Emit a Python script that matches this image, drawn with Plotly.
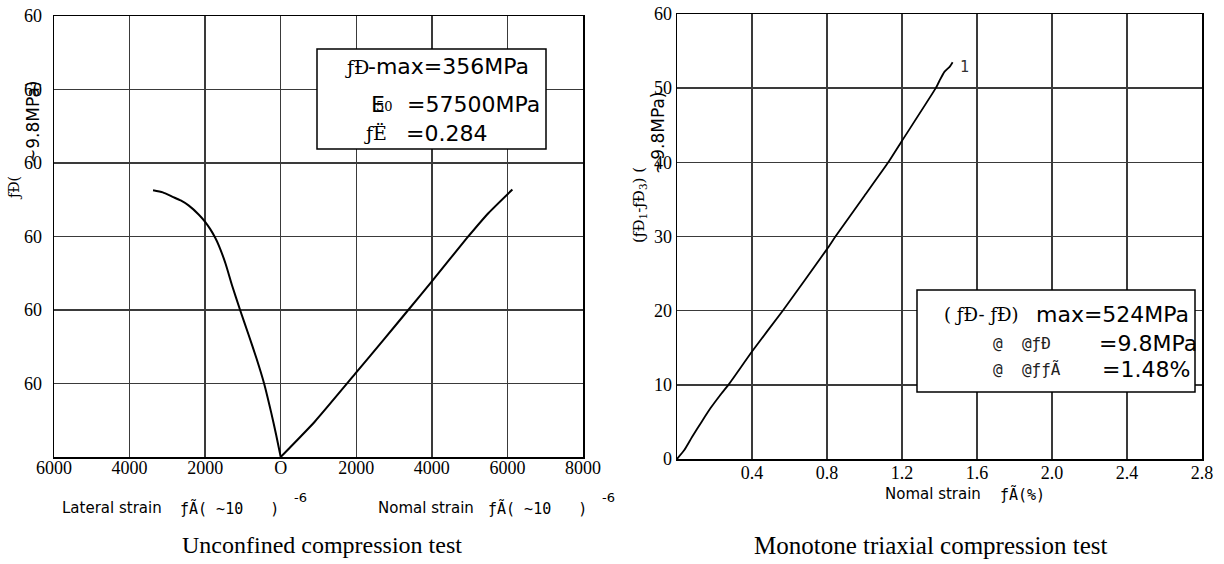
import plotly.graph_objects as go

W, H = 1224, 564

# ---------------- data: unconfined compression test ----------------
lateral_strain = [0, -120, -250, -440, -640, -855, -1075, -1285, -1459, -1640, -1730, -1865,
                  -2000, -2172, -2431, -2647, -2862, -3121, -3379]
lateral_stress = [0, 3.0, 6.0, 10.0, 13.4, 16.7, 20.0, 23.3, 26.3, 28.8, 29.8, 31.0,
                  32.0, 33.0, 34.2, 34.9, 35.4, 36.0, 36.3]
normal_strain = [0, 900, 2000, 2732, 3375, 4000, 4930, 5500, 6131]
normal_stress = [0, 4.8, 11.5, 16.0, 20.0, 23.9, 29.8, 33.2, 36.4]
left_xticks = [-6000, -4000, -2000, 0, 2000, 4000, 6000, 8000]
left_xticktext = ["6000", "4000", "2000", "O", "2000", "4000", "6000", "8000"]
left_yticks = [10, 20, 30, 40, 50, 60]
left_yticktext = ["60", "60", "60", "60", "60", "60"]

# ---------------- data: monotone triaxial compression test ----------------
tri_strain = [0, 0.039, 0.081, 0.131, 0.18, 0.23, 0.28, 0.40, 0.564, 0.80, 0.845, 1.00,
              1.127, 1.20, 1.38, 1.40, 1.426, 1.455, 1.47]
tri_stress = [0, 1.2, 3.0, 5.0, 6.9, 8.6, 10.2, 14.5, 20.0, 28.3, 30.0, 35.5,
              40.0, 42.9, 50.0, 51.0, 52.2, 52.9, 53.5]
right_xticks = [0.4, 0.8, 1.2, 1.6, 2.0, 2.4, 2.8]
right_xticktext = ["0.4", "0.8", "1.2", "1.6", "2.0", "2.4", "2.8"]
right_yticks = [0, 10, 20, 30, 40, 50, 60]
right_yticktext = ["0", "10", "20", "30", "40", "50", "60"]

fig = go.Figure()
fig.add_trace(go.Scatter(x=lateral_strain, y=lateral_stress, mode="lines",
                         line=dict(color="black", width=2, shape="spline", smoothing=0.6),
                         xaxis="x", yaxis="y", showlegend=False))
fig.add_trace(go.Scatter(x=normal_strain, y=normal_stress, mode="lines",
                         line=dict(color="black", width=2, shape="spline", smoothing=0.5),
                         xaxis="x", yaxis="y", showlegend=False))
fig.add_trace(go.Scatter(x=tri_strain, y=tri_stress, mode="lines",
                         line=dict(color="black", width=1.8, shape="spline", smoothing=0.4),
                         xaxis="x2", yaxis="y2", showlegend=False))

tickfont = dict(family="Liberation Serif", size=18, color="black")
common = dict(showgrid=True, gridcolor="#3a3a3a", gridwidth=1.5, zeroline=False,
              showline=True, mirror=True, linecolor="black", linewidth=1.5,
              ticks="", tickfont=tickfont, automargin=False, fixedrange=True)

fig.update_layout(
    width=W, height=H, autosize=False,
    margin=dict(l=0, r=0, t=0, b=0),
    paper_bgcolor="white", plot_bgcolor="white",
    hovermode=False,
    xaxis=dict(domain=[54 / W, 583 / W], range=[-6000, 8000], tickmode="array",
               tickvals=left_xticks, ticktext=left_xticktext, anchor="y",
               ticklabelstandoff=-6, **common),
    yaxis=dict(domain=[1 - 457 / H, 1 - 16 / H], range=[0, 60], tickmode="array",
               tickvals=left_yticks, ticktext=left_yticktext, anchor="x",
               ticklabelstandoff=7, **common),
    xaxis2=dict(domain=[677 / W, 1202 / W], range=[0, 2.8], tickmode="array",
                tickvals=right_xticks, ticktext=right_xticktext, anchor="y2",
                ticklabelstandoff=-3, **common),
    yaxis2=dict(domain=[1 - 459 / H, 1 - 14 / H], range=[0, 60], tickmode="array",
                tickvals=right_yticks, ticktext=right_yticktext, anchor="x2",
                ticklabelstandoff=0, **common),
)


def ann(text, x, y, size, family="DejaVu Sans", xanchor="left", angle=0, color="black"):
    return dict(text=text, x=x / W, y=1 - y / H, xref="paper", yref="paper",
                xanchor=xanchor, yanchor="middle", showarrow=False, textangle=angle,
                font=dict(family=family, size=size, color=color))


def box(x0, y0, x1, y1):
    return dict(type="rect", xref="paper", yref="paper", x0=x0 / W, x1=x1 / W,
                y0=1 - y1 / H, y1=1 - y0 / H, fillcolor="white",
                line=dict(color="black", width=1.5), layer="above")


NB = "\u00a0"
annotations = [
    # left box
    ann("ƒÐ", 343, 67, 19, family="DejaVu Serif"),
    ann("-max=356MPa", 366, 67, 22),
    ann("E", 369, 104, 22),
    ann("50", 374, 106, 13, family="DejaVu Serif"),
    ann("=57500MPa", 405, 104, 22),
    ann("ƒË", 362, 133, 19, family="DejaVu Serif"),
    ann("=0.284", 404, 133, 22),
    # right box
    ann("(" + NB + "ƒÐ-" + NB + "ƒÐ)", 942, 315, 18, family="DejaVu Serif"),
    ann("max=524MPa", 1034, 315, 22),
    ann("@" + NB + NB + "@ƒÐ", 991, 343, 16, family="DejaVu Sans Mono", color="#222"),
    ann("=9.8MPa", 1097, 343, 22),
    ann("@" + NB + NB + "@ƒƒÃ", 991, 369, 16, family="DejaVu Sans Mono", color="#222"),
    ann("=1.48%", 1100, 369, 22),
    # curve label
    ann("1", 964, 67, 15, family="DejaVu Sans Mono", xanchor="center", color="#333"),
    # left y title
    ann("ƒÐ(", 14, 188, 14, family="DejaVu Serif", xanchor="center", angle=-90),
    ann("~9.8MPa)", 33, 122, 17, xanchor="center", angle=-90),
    # right y title
    ann("(ƒÐ<sub>1</sub>-ƒÐ<sub>3</sub>)" + NB + "(", 640, 205, 15, family="DejaVu Serif",
        xanchor="center", angle=-90),
    ann("~9.8MPa)", 658, 133, 17, xanchor="center", angle=-90),
    # left x titles
    ann("Lateral strain", 60, 508, 15),
    ann("ƒÃ(" + NB + "~10" + NB + NB + NB + ")", 178, 508, 15, family="DejaVu Sans Mono"),
    ann("-6", 300, 497, 13, xanchor="center"),
    ann("Nomal strain", 376, 508, 15),
    ann("ƒÃ(" + NB + "~10" + NB + NB + NB + ")", 486, 508, 15, family="DejaVu Sans Mono"),
    ann("-6", 608, 497, 13, xanchor="center"),
    # right x title
    ann("Nomal strain", 883, 494, 15),
    ann("ƒÃ(%)", 998, 494, 15, family="DejaVu Sans Mono"),
    # captions
    ann("Unconfined compression test", 322, 545, 24, family="Liberation Serif", xanchor="center"),
    ann("Monotone triaxial compression test", 930, 545, 25, family="Liberation Serif", xanchor="center"),
]

fig.update_layout(annotations=annotations,
                  shapes=[box(317, 49, 546, 149), box(917, 290, 1195, 392)])

fig.write_html("out.html", config={"displayModeBar": False, "staticPlot": True},
               post_script="document.body.style.margin='0px';")
